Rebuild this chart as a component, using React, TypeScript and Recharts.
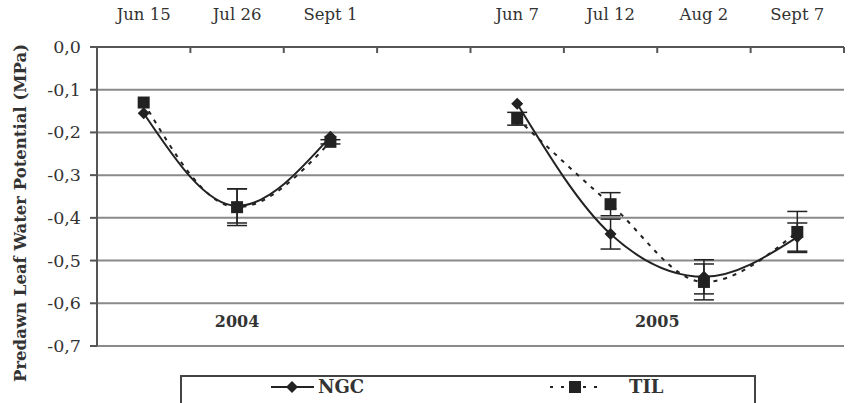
import React from 'react';
import { ComposedChart, Line, XAxis, YAxis, CartesianGrid, ErrorBar, ReferenceDot } from 'recharts';

const dateLabels = ['Jun 15', 'Jul 26', 'Sept 1', '', 'Jun 7', 'Jul 12', 'Aug 2', 'Sept 7'];
const ngcValues = [-0.155, -0.372, -0.21, null, -0.133, -0.438, -0.538, -0.445];
const tilValues = [-0.13, -0.375, -0.222, null, -0.168, -0.368, -0.55, -0.433];
const ngcErrors = [null, 0.04, null, null, null, 0.035, 0.04, 0.033];
const tilErrors = [null, 0.043, 0.005, null, 0.015, 0.027, 0.042, 0.048];
const yTicks = [0, -0.1, -0.2, -0.3, -0.4, -0.5, -0.6, -0.7];
const yearLabels = [
  { year: '2004', pos: 2, level: -0.642 },
  { year: '2005', pos: 6.5, level: -0.642 },
];

const data = dateLabels.map((label, i) => ({
  pos: i + 1,
  label,
  ngc: ngcValues[i],
  til: tilValues[i],
  ngcErr: ngcErrors[i],
  tilErr: tilErrors[i],
}));

const xTicks: number[] = [];
for (let i = 0; i <= dateLabels.length * 2; i++) xTicks.push(0.5 + i * 0.5);

const SERIF = "'DejaVu Serif', 'Liberation Serif', serif";
const INK = '#222';

const TopTick = (props: any) => {
  const { x, y, payload } = props;
  const v = payload.value as number;
  if (Number.isInteger(v)) {
    const text = dateLabels[v - 1] || '';
    return (
      <text x={x} y={y - 27} textAnchor="middle" fontFamily={SERIF} fontSize={16.5} fill="#333">
        {text}
      </text>
    );
  }
  return <line x1={x} x2={x} y1={y} y2={y + 6} stroke="#555" strokeWidth={2} />;
};

const YTick = (props: any) => {
  const { x, y, payload } = props;
  const v = payload.value as number;
  return (
    <text x={x} y={y} dy={6} textAnchor="end" fontFamily={SERIF} fontSize={17.5} fill="#333">
      {v.toFixed(1).replace('.', ',')}
    </text>
  );
};

const Diamond = (p: any) => {
  const { cx, cy } = p;
  if (cx == null || cy == null || p.value == null) return <g key={p.key} />;
  const r = 6;
  return (
    <polygon
      key={p.key}
      points={`${cx},${cy - r} ${cx + r},${cy} ${cx},${cy + r} ${cx - r},${cy}`}
      fill={INK}
    />
  );
};

const Square = (p: any) => {
  const { cx, cy } = p;
  if (cx == null || cy == null || p.value == null) return <g key={p.key} />;
  const r = 6;
  return <rect key={p.key} x={cx - r} y={cy - r} width={2 * r} height={2 * r} fill={INK} />;
};

const YLabel = () => (
  <text
    x={20}
    y={213}
    transform="rotate(-90 20 213)"
    textAnchor="middle"
    dominantBaseline="central"
    fontFamily={SERIF}
    fontWeight="bold"
    fontSize={16.5}
    fill="#333"
  >
    Predawn Leaf Water Potential (MPa)
  </text>
);

export default function App() {
  return (
    <div style={{ position: 'absolute', left: 0, top: 0, width: 852, height: 403, background: '#fff' }}>
      <ComposedChart
        width={852}
        height={403}
        data={data}
        margin={{ top: 0, right: 8, bottom: 57, left: 0 }}
      >
        <CartesianGrid vertical={false} stroke="#8a8a8a" strokeWidth={2} />
        <XAxis
          dataKey="pos"
          type="number"
          orientation="top"
          domain={[0.5, 8.5]}
          ticks={xTicks}
          interval={0}
          height={47}
          tickSize={0}
          tickMargin={0}
          tickLine={false}
          axisLine={{ stroke: '#555', strokeWidth: 2 }}
          tick={<TopTick />}
        />
        <YAxis
          type="number"
          domain={[-0.7, 0]}
          ticks={yTicks}
          interval={0}
          width={97}
          tickSize={7}
          tickMargin={9}
          tickLine={{ stroke: '#555', strokeWidth: 2 }}
          axisLine={{ stroke: '#555', strokeWidth: 2 }}
          tick={<YTick />}
          label={<YLabel />}
        />
        <Line
          dataKey="til"
          type="monotone"
          stroke={INK}
          strokeWidth={2}
          strokeDasharray="4 6"
          dot={Square}
          activeDot={false}
          isAnimationActive={false}
          connectNulls={false}
        >
          <ErrorBar dataKey="tilErr" width={10} stroke={INK} strokeWidth={1.5} direction="y" />
        </Line>
        <Line
          dataKey="ngc"
          type="monotone"
          stroke={INK}
          strokeWidth={2}
          dot={Diamond}
          activeDot={false}
          isAnimationActive={false}
          connectNulls={false}
        >
          <ErrorBar dataKey="ngcErr" width={10} stroke={INK} strokeWidth={1.5} direction="y" />
        </Line>
        {yearLabels.map((yl) => (
          <ReferenceDot
            key={yl.year}
            x={yl.pos}
            y={yl.level}
            r={0}
            ifOverflow="visible"
            shape={(p: any) => (
              <text
                x={p.cx}
                y={p.cy}
                textAnchor="middle"
                dominantBaseline="central"
                fontFamily={SERIF}
                fontWeight="bold"
                fontSize={16}
                fill="#333"
              >
                {yl.year}
              </text>
            )}
          />
        ))}
      </ComposedChart>
      <svg
        width={852}
        height={403}
        style={{ position: 'absolute', left: 0, top: 0, pointerEvents: 'none' }}
      >
        <rect x={181} y={376} width={574} height={40} fill="none" stroke="#444" strokeWidth={2} />
        <line x1={271} x2={314} y1={387} y2={387} stroke={INK} strokeWidth={2} />
        <polygon points="292,381 298,387 292,393 286,387" fill={INK} />
        <text x={318} y={393} fontFamily={SERIF} fontWeight="bold" fontSize={18} fill="#333">
          NGC
        </text>
        <line x1={549} x2={601} y1={387} y2={387} stroke={INK} strokeWidth={2} strokeDasharray="3 8" strokeDashoffset={-1} />
        <rect x={569} y={381} width={12} height={12} fill={INK} />
        <text x={629} y={393} fontFamily={SERIF} fontWeight="bold" fontSize={18} fill="#333">
          TIL
        </text>
      </svg>
    </div>
  );
}
